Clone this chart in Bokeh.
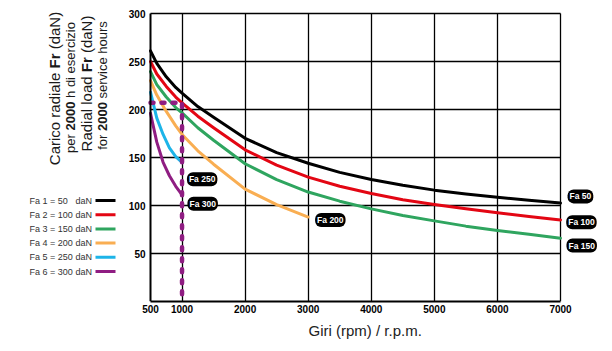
import math
from bokeh.plotting import figure
from bokeh.models import Range1d, FixedTicker, Label, Title, Grid
from bokeh.embed import file_html
from bokeh.resources import INLINE

# ---------------- data ----------------
rpm_long = [500, 600, 750, 900, 1000, 1250, 1500, 2000, 2500, 3000, 3500, 4000, 4500, 5000, 5500, 6000, 6500, 7000]
fa50 = [261, 248, 234, 223, 217, 203, 192, 170, 155, 144, 134.5, 127, 121, 116, 112, 108.5, 105.5, 102.5]
fa100 = [250, 237, 224, 213, 207, 193, 181, 158, 142, 129.5, 120, 112.5, 106, 101, 96.5, 92.5, 88.5, 85]
fa150 = [239.5, 226, 213, 202, 196.5, 181, 168, 143.5, 127, 114, 104.5, 96.5, 89.5, 84, 78.5, 74, 70, 66]
rpm_fa200 = [500, 600, 750, 900, 1000, 1250, 1500, 2000, 2500, 3000]
fa200 = [230, 215, 198, 183, 174, 157, 143, 117, 101, 88]
rpm_short = [500, 600, 700, 800, 900, 1000]
fa250 = [218, 191, 174, 160, 151, 145]
fa300 = [196, 166, 145, 131, 120, 111]

guide_x = [500, 1000, 1000]
guide_y = [207, 207, 0]

x_ticks = [500, 1000, 2000, 3000, 4000, 5000, 6000, 7000]
y_ticks = [50, 100, 150, 200, 250, 300]
x_grid = [1000, 2000, 3000, 4000, 5000, 6000, 7000]
y_grid = [50, 100, 150, 200, 250, 300]

legend_labels = ["Fa 1 = 50", "Fa 2 = 100", "Fa 3 = 150", "Fa 4 = 200", "Fa 5 = 250", "Fa 6 = 300"]
badge_text = ["Fa 50", "Fa 100", "Fa 150", "Fa 200", "Fa 250", "Fa 300"]
badge_x = [7316, 7332, 7336, 3351, 1319, 1327]
badge_y = [109.5, 82.6, 58.3, 85, 127.4, 101.8]

colors = ["#000000", "#e30613", "#2fa55f", "#f9ae52", "#1db4e8", "#8f1d82"]

FONT = "Liberation Sans"

# ---------------- layout constants (canvas pixels) ----------------
W, H = 604, 350
CL, CR, CT = 26, 600, 4          # frame edges on the canvas
AL, AR, FT, FB = 150, 560, 13, 301   # where 500/7000 and 300/0 fall
X0, X1, Y0, Y1 = 500, 7000, 0, 300
SX = (X1 - X0) / (AR - AL)
SY = (Y1 - Y0) / (FB - FT)
XS = X0 - (AL - CL) * SX
XE = X1 + (CR - AR) * SX
YE = Y1 + (FT - CT) * SY


def X(px):
    return X0 + (px - AL) * SX


def Y(py):
    return Y0 + (FB - py) * SY


p = figure(width=W, height=H, x_range=Range1d(XS, XE), y_range=Range1d(Y0, YE),
           output_backend="svg", toolbar_location=None,
           min_border_left=CL, min_border_right=W - CR, min_border_top=CT,
           min_border_bottom=H - FB)
p.outline_line_color = None

p.xaxis.ticker = FixedTicker(ticks=x_ticks)
p.yaxis.ticker = FixedTicker(ticks=y_ticks)
p.xaxis.bounds = (X0, X1)
p.yaxis.bounds = (Y0, Y1)
p.yaxis.fixed_location = X0
for ax in (p.xaxis[0], p.yaxis[0]):
    ax.axis_line_color = "black"
    ax.axis_line_width = 2
    ax.major_tick_line_color = None
    ax.minor_tick_line_color = None
    ax.major_tick_out = 0
    ax.major_tick_in = 0
    ax.minor_tick_out = 0
    ax.major_label_text_font = FONT
    ax.major_label_text_font_style = "bold"
    ax.major_label_text_font_size = "10px"
    ax.major_label_text_color = "black"
p.yaxis.major_label_standoff = 5
p.xaxis.major_label_standoff = 3

xt = Title(text="Giri (rpm) / r.p.m.", align="left", offset=365 - 57 - CL,
           text_font=FONT, text_font_size="15px", text_font_style="normal",
           text_color="#222222", standoff=8)
p.add_layout(xt, "below")

p.xgrid.ticker = FixedTicker(ticks=x_grid)
p.ygrid.ticker = FixedTicker(ticks=y_grid)
for g in (p.xgrid[0], p.ygrid[0]):
    g.grid_line_color = "black"
    g.grid_line_width = 1.3
    g.grid_line_alpha = 1.0
if "cross_bounds" in Grid.properties():
    p.ygrid.cross_bounds = (X0, X1)
    p.xgrid.cross_bounds = (Y0, Y1)
else:
    p.ygrid.visible = False
    p.xgrid.visible = False
    p.segment(x0=[X0] * len(y_grid), y0=y_grid, x1=[X1] * len(y_grid), y1=y_grid,
              line_color="black", line_width=1.3)
    p.segment(x0=x_grid, y0=[Y0] * len(x_grid), x1=x_grid, y1=[Y1] * len(x_grid),
              line_color="black", line_width=1.3)

series = [
    (rpm_short, fa300, colors[5]),
    (rpm_short, fa250, colors[4]),
    (rpm_fa200, fa200, colors[3]),
    (rpm_long, fa150, colors[2]),
    (rpm_long, fa100, colors[1]),
    (rpm_long, fa50, colors[0]),
]
for xs, ys, c in series:
    p.line(xs, ys, line_color=c, line_width=3, line_cap="round", line_join="round")

p.line(guide_x, guide_y, line_color=colors[5], line_width=4.5, line_dash="3 8", line_cap="round")

for t, x, y in zip(badge_text, badge_x, badge_y):
    p.add_layout(Label(x=x, y=y, text=t, text_align="center", text_baseline="middle",
                       text_color="white", text_font=FONT, text_font_style="bold",
                       text_font_size="8.5px", background_fill_color="black",
                       border_radius=6, padding=2))

# ---------------- rotated y title (mixed bold) ----------------
W_R = {" ": 278, "(": 333, ")": 333, "C": 722, "F": 611, "N": 722, "R": 722, "a": 556,
       "c": 500, "d": 556, "e": 556, "f": 278, "h": 556, "i": 222, "l": 222, "o": 556,
       "p": 556, "r": 333, "s": 500, "u": 556, "v": 500, "z": 500}
W_B = {"F": 611, "r": 389}
for dgt in "0123456789":
    W_R[dgt] = 556
    W_B[dgt] = 556


def twidth(s, bold, size):
    tbl = W_B if bold else W_R
    return sum(tbl.get(ch, W_R.get(ch, 556)) for ch in s) * size / 1000.0


title_lines = [
    ([("Carico radiale ", False), ("Fr", True), (" (daN)", False)], 15, 54, 88),
    ([("per ", False), ("2000", True), (" h di esercizio", False)], 13, 70, 87),
    ([("Radial load ", False), ("Fr", True), (" (daN)", False)], 15, 86, 83),
    ([("for ", False), ("2000", True), (" service hours", False)], 13, 102, 85),
]
for frags, size, px, cy in title_lines:
    total = sum(twidth(t, b, size) for t, b in frags)
    py = cy + total / 2.0
    for t, b in frags:
        lead = len(t) - len(t.lstrip(" "))
        shown = t.strip(" ")
        start = py - twidth(" " * lead, False, size)
        p.add_layout(Label(x=X(px), y=Y(start), text=shown, angle=math.pi / 2,
                           text_align="left", text_baseline="middle",
                           text_font=FONT, text_font_size=f"{size}px",
                           text_font_style="bold" if b else "normal",
                           text_color="#1a1a1a"))
        py -= twidth(t, b, size)

# ---------------- legend in the left area ----------------
leg_py = [200, 214.2, 228.4, 242.6, 256.8, 271]
for lab, c, py in zip(legend_labels, colors, leg_py):
    p.add_layout(Label(x=X(29), y=Y(py), text=lab, text_align="left", text_baseline="middle",
                       text_font=FONT, text_font_size="9px", text_color="#333333"))
    p.add_layout(Label(x=X(91.5), y=Y(py), text="daN", text_align="right", text_baseline="middle",
                       text_font=FONT, text_font_size="9px", text_color="#333333"))
    p.segment(x0=[X(95)], y0=[Y(py)], x1=[X(115)], y1=[Y(py)], line_color=c, line_width=3)

open("out.html", "w").write(file_html(p, INLINE))
